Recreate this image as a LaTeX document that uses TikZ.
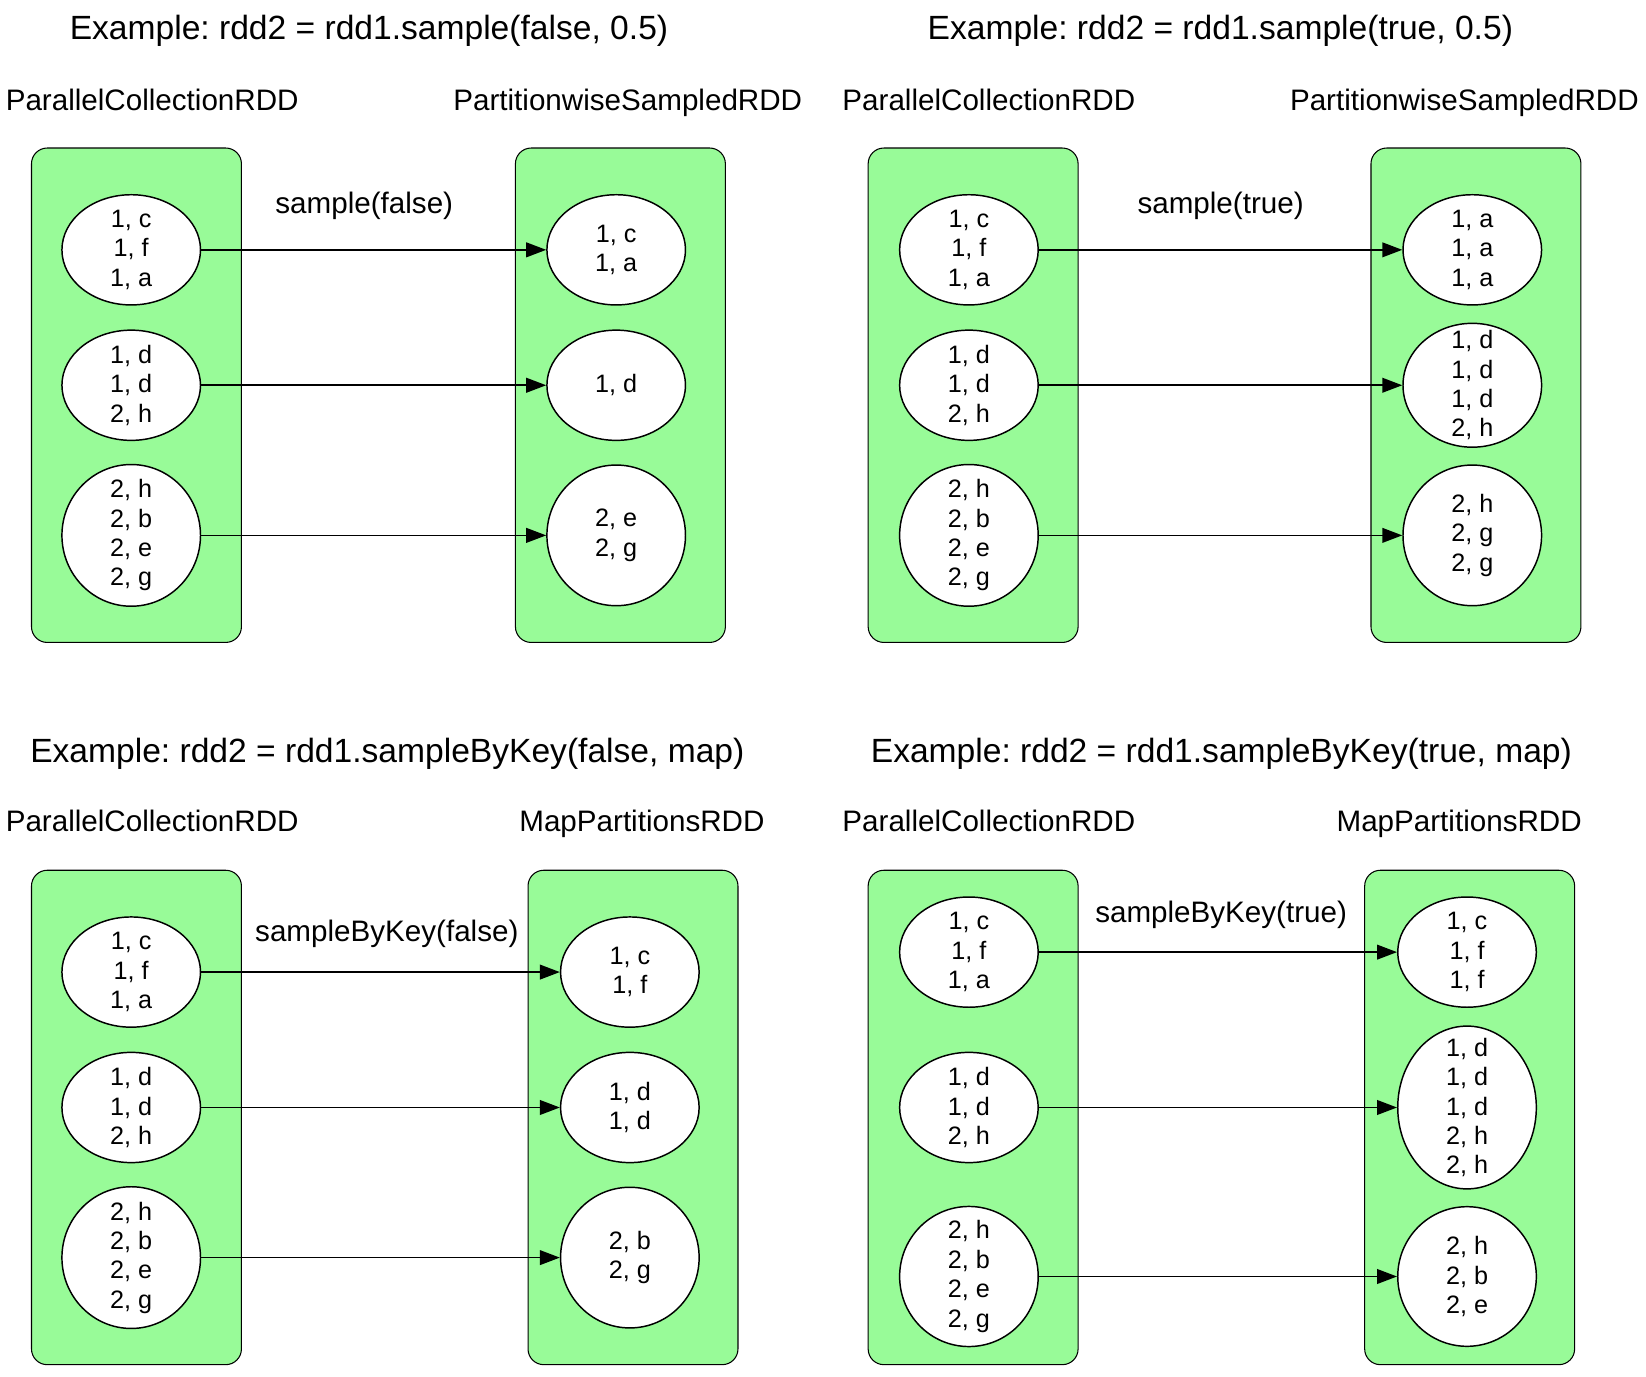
\documentclass[tikz,border=0pt]{standalone}
\usepackage{fontspec}
\setmainfont{Liberation Sans}
\usepackage{xcolor}
\usepackage{tikz}
\usetikzlibrary{arrows.meta, positioning, shapes.geometric}
\definecolor{rddgreen}{HTML}{98FB98}
\frenchspacing

\begin{document}
\begin{tikzpicture}[x=0.5pt, y=-0.5pt,
    part/.style={draw, line width=0.5pt, fill=rddgreen, rectangle, rounded corners=7.5pt,
                 minimum width=100pt, minimum height=235.5pt},
    blob/.style={draw, line width=0.7pt, fill=white, ellipse, inner xsep=0pt, inner ysep=-3pt,
                 minimum width=66pt, minimum height=52.5pt, align=center,
                 font=\fontsize{12}{14}\selectfont},
    rddname/.style={inner sep=0pt, anchor=base, font=\fontsize{14.1}{17}\selectfont},
    title/.style={inner sep=0pt, anchor=base, font=\fontsize{16}{19}\selectfont},
    op/.style={inner sep=0pt, anchor=base, midway, font=\fontsize{14.1}{17}\selectfont},
    flow/.style={-{Triangle[length=9.5pt, width=7pt]}, line width=0.8pt}]
      \useasboundingbox (0,0) rectangle (1568,1311);

      % sample(false, 0.5)
      \node[title] (t1) at (351.5,38) {Example: rdd2 = rdd1.sample(false, 0.5)};
      \node[rddname] (n1a) at (145,105) {ParallelCollectionRDD};
      \node[rddname] (n1b) at (598,105) {PartitionwiseSampledRDD};
      \node[part] (p1a) at (130,376.5) {};
      \node[part] (p1b) at (591,376.5) {};
      \node[blob] (a11) at (125,238) {1, c\\1, f\\1, a};
      \node[blob] (a12) at (125,367) {1, d\\1, d\\2, h};
      \node[blob, minimum height=67.5pt] (a13) at (125,510) {2, h\\2, b\\2, e\\2, g};
      \node[blob] (b11) at (587,238) {1, c\\1, a};
      \node[blob] (b12) at (587,367) {1, d};
      \node[blob, minimum height=67pt] (b13) at (587,510) {2, e\\2, g};
      \draw[flow] (a11) -- node[op, yshift=17.5pt, xshift=-4.5pt] {sample(false)} (b11);
      \draw[flow] (a12) -- (b12);
      \draw[flow] (a13) -- (b13);

      % sample(true, 0.5)
      \node[title] (t2) at (1162.5,38) {Example: rdd2 = rdd1.sample(true, 0.5)};
      \node[rddname] (n2a) at (942,105) {ParallelCollectionRDD};
      \node[rddname] (n2b) at (1395,105) {PartitionwiseSampledRDD};
      \node[part] (p2a) at (927,376.5) {};
      \node[part] (p2b) at (1406,376.5) {};
      \node[blob] (a21) at (923,238) {1, c\\1, f\\1, a};
      \node[blob] (a22) at (923,367) {1, d\\1, d\\2, h};
      \node[blob, minimum height=67.5pt] (a23) at (923,510) {2, h\\2, b\\2, e\\2, g};
      \node[blob] (b21) at (1402.5,238) {1, a\\1, a\\1, a};
      \node[blob, inner ysep=-5.8pt, minimum height=59pt] (b22) at (1402.5,367) {1, d\\1, d\\1, d\\2, h};
      \node[blob, minimum height=67pt] (b23) at (1402.5,510) {2, h\\2, g\\2, g};
      \draw[flow] (a21) -- node[op, yshift=17.5pt] {sample(true)} (b21);
      \draw[flow] (a22) -- (b22);
      \draw[flow] (a23) -- (b23);

      % sampleByKey(false, map)
      \node[title] (t3) at (369,726) {Example: rdd2 = rdd1.sampleByKey(false, map)};
      \node[rddname] (n3a) at (145,792) {ParallelCollectionRDD};
      \node[rddname] (n3b) at (611.5,792) {MapPartitionsRDD};
      \node[part] (p3a) at (130,1064.5) {};
      \node[part] (p3b) at (603,1064.5) {};
      \node[blob] (a31) at (125,926) {1, c\\1, f\\1, a};
      \node[blob] (a32) at (125,1055) {1, d\\1, d\\2, h};
      \node[blob, minimum height=67.5pt] (a33) at (125,1198) {2, h\\2, b\\2, e\\2, g};
      \node[blob] (b31) at (600,926) {1, c\\1, f};
      \node[blob] (b32) at (600,1055) {1, d\\1, d};
      \node[blob, minimum height=67pt] (b33) at (600,1198) {2, b\\2, g};
      \draw[flow] (a31) -- node[op, yshift=14.5pt, xshift=3pt] {sampleByKey(false)} (b31);
      \draw[flow] (a32) -- (b32);
      \draw[flow] (a33) -- (b33);

      % sampleByKey(true, map)
      \node[title] (t4) at (1163.5,726) {Example: rdd2 = rdd1.sampleByKey(true, map)};
      \node[rddname] (n4a) at (942,792) {ParallelCollectionRDD};
      \node[rddname] (n4b) at (1390,792) {MapPartitionsRDD};
      \node[part] (p4a) at (927,1064.5) {};
      \node[part] (p4b) at (1400,1064.5) {};
      \node[blob] (a41) at (923,907) {1, c\\1, f\\1, a};
      \node[blob] (a42) at (923,1055) {1, d\\1, d\\2, h};
      \node[blob, minimum height=66.5pt] (a43) at (923,1216) {2, h\\2, b\\2, e\\2, g};
      \node[blob] (b41) at (1397.5,907) {1, c\\1, f\\1, f};
      \node[blob, inner ysep=-5.7pt, minimum height=77.5pt] (b42) at (1397.5,1055) {1, d\\1, d\\1, d\\2, h\\2, h};
      \node[blob, minimum height=66.5pt] (b43) at (1397.5,1216) {2, h\\2, b\\2, e};
      \draw[flow] (a41) -- node[op, yshift=14pt, xshift=1.5pt] {sampleByKey(true)} (b41);
      \draw[flow] (a42) -- (b42);
      \draw[flow] (a43) -- (b43);
    \end{tikzpicture}
\end{document}
